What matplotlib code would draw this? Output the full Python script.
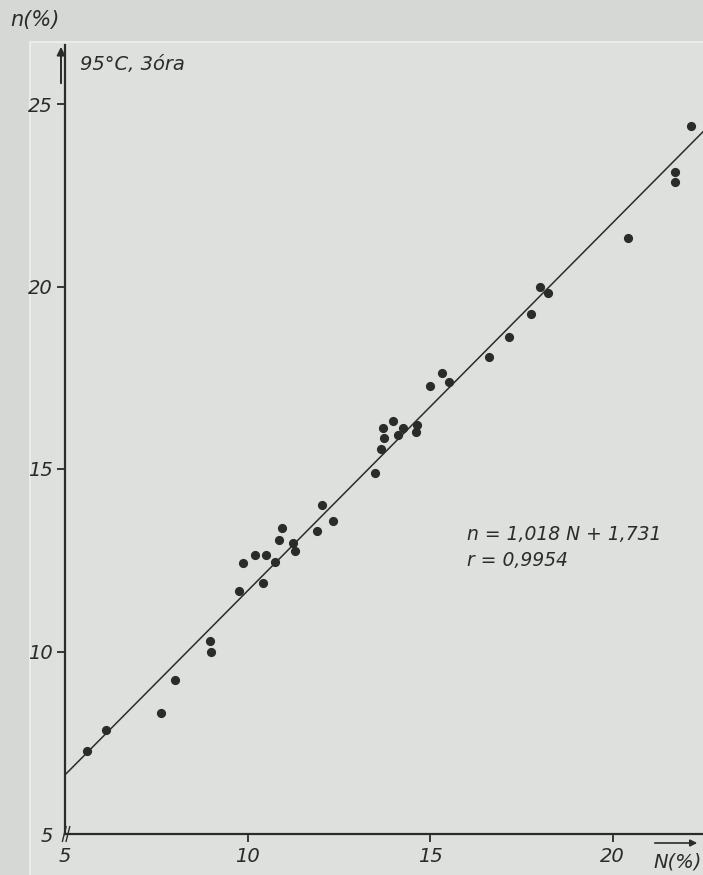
import matplotlib
matplotlib.use('Agg')
from matplotlib.pyplot import *
from matplotlib.patches import Rectangle

# measured points, N(%) vs n(%), 95 C, 3 ora
N_vals = [5.61, 6.12, 7.62, 8.01, 8.97, 9.00, 9.78, 9.88, 10.21, 10.50,
          10.43, 10.75, 10.87, 10.94, 11.25, 11.31, 11.91, 12.04, 12.35, 13.49,
          13.65, 13.74, 13.70, 13.98, 14.13, 14.25, 14.64, 14.62, 15.00, 15.32,
          15.53, 16.62, 17.16, 17.76, 18.02, 18.23, 20.42, 21.70, 21.70, 22.15]
n_vals = [7.28, 7.84, 8.31, 9.21, 10.29, 10.00, 11.66, 12.42, 12.64, 12.64,
          11.88, 12.46, 13.05, 13.38, 12.97, 12.75, 13.29, 14.01, 13.58, 14.88,
          15.55, 15.86, 16.12, 16.32, 15.93, 16.12, 16.21, 16.02, 17.28, 17.64,
          17.39, 18.08, 18.62, 19.25, 19.99, 19.81, 21.32, 23.14, 22.87, 24.41]

# regression as printed on the chart
slope = 1.018
intercept = 1.731
r_val = 0.9954
# regression line as drawn
line_N = [5.0, 22.48]
line_n = [6.62, 24.24]

ticks = [5, 10, 15, 20]
ytick_vals = [5, 10, 15, 20, 25]

ink = '#2b2b2b'
fnt = dict(family=['DejaVu Sans'], style='italic', color=ink)

W, H = 703, 875
fig = figure(figsize=(W/100, H/100), dpi=100)
fig.patch.set_facecolor('#d6d8d5')
fig.patches.append(Rectangle((30/W, -0.01), 1, 1.01-42/H, transform=fig.transFigure,
                             facecolor='#dee0dd', edgecolor='#eef0ed', lw=1.2, zorder=-10))

ax = fig.add_axes([65/W, (H-834)/H, (W-65)/W, (834-45)/H])
ax.set_facecolor('none')
ax.set_xlim(5, 5 + (W-65)/36.5)
ax.set_ylim(5, 25 + (104-45)/36.5)

ax.plot(N_vals, n_vals, 'o', ms=5.6, color=ink, mec=ink, clip_on=False)
ax.plot(line_N, line_n, color=ink, lw=1.1)

for s in ['top', 'right']:
    ax.spines[s].set_visible(False)
for s in ['left', 'bottom']:
    ax.spines[s].set_linewidth(1.6)
    ax.spines[s].set_color(ink)

ax.set_xticks(ticks)
ax.set_yticks(ytick_vals)
ax.set_xticklabels([str(t) for t in ticks], fontsize=14, **fnt)
ax.set_yticklabels([str(t) for t in ytick_vals], fontsize=14, **fnt)
ax.tick_params(direction='out', length=6, width=1.3, color=ink, pad=3)
ax.get_xticklines()[0].set_visible(False)
ax.get_yticklines()[0].set_visible(False)

# axis break mark at origin
ax.plot([4.93, 5.03], [4.8, 5.2], color=ink, lw=1.0, clip_on=False)
ax.plot([5.03, 5.13], [4.8, 5.2], color=ink, lw=1.0, clip_on=False)

# axis arrows and labels
ax.annotate('', xy=(61/W, 1-44/H), xytext=(61/W, 1-86/H), xycoords='figure fraction',
            arrowprops=dict(arrowstyle='-|>', color=ink, lw=1.4, mutation_scale=12))
ax.annotate('', xy=(700/W, 1-843/H), xytext=(652/W, 1-843/H), xycoords='figure fraction',
            arrowprops=dict(arrowstyle='-|>', color=ink, lw=1.2, mutation_scale=10))
fig.text(35/W, 1-20/H, 'n(%)', fontsize=15, ha='center', va='center', **fnt)
fig.text(678/W, 1-862/H, 'N(%)', fontsize=14, ha='center', va='center', **fnt)
fig.text(80/W, 1-65/H, '95°C, 3óra', fontsize=14, ha='left', va='center', **fnt)

fig.text(467/W, 1-535/H, 'n = %s N + %s' % (f'{slope:.3f}'.replace('.', ','),
                                            f'{intercept:.3f}'.replace('.', ',')),
         fontsize=13.5, ha='left', va='center', **fnt)
fig.text(467/W, 1-560/H, 'r = %s' % f'{r_val:.4f}'.replace('.', ','),
         fontsize=13.5, ha='left', va='center', **fnt)

savefig('out.png', dpi=100, facecolor=fig.get_facecolor())
